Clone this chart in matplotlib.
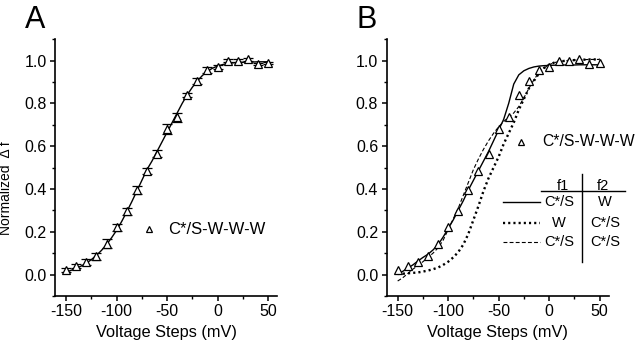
import numpy as np
import matplotlib
matplotlib.use("Agg")
import matplotlib.pyplot as plt
from matplotlib.ticker import MultipleLocator

plt.rcParams['font.family'] = ['Liberation Sans', 'DejaVu Sans']

# voltage steps (mV) and normalized frequency shift for C*/S-W-W-W
volt = [-150, -140, -130, -120, -110, -100, -90, -80, -70, -60, -50,
        -40, -30, -20, -10, 0, 10, 20, 30, 40, 50]
df_norm = [0.02, 0.04, 0.06, 0.085, 0.145, 0.22, 0.295, 0.395, 0.485, 0.565, 0.68,
           0.735, 0.84, 0.905, 0.955, 0.97, 1.0, 1.0, 1.005, 0.985, 0.99]
df_err = [0.01, 0.01, 0.015, 0.015, 0.02, 0.015, 0.015, 0.02, 0.015, 0.015, 0.025,
          0.02, 0.01, 0.015, 0.015, 0.01, 0.005, 0.005, 0.008, 0.005, 0.005]

# fitted curves, sampled every 5 mV
v_fit = list(range(-150, 55, 5))
fit_a = [0.012, 0.02, 0.03, 0.04, 0.053, 0.07, 0.09, 0.113, 0.14, 0.172, 0.207,
         0.248, 0.293, 0.34, 0.39, 0.44, 0.49, 0.53, 0.575, 0.62, 0.665,
         0.71, 0.755, 0.8, 0.84, 0.875, 0.905, 0.93, 0.95, 0.964, 0.974,
         0.981, 0.986, 0.989, 0.991, 0.992, 0.993, 0.993, 0.994, 0.994, 0.994]
fit_cs_w = [0.005, 0.015, 0.03, 0.045, 0.063, 0.08, 0.095, 0.115, 0.14, 0.175, 0.215,
            0.255, 0.3, 0.345, 0.395, 0.44, 0.485, 0.53, 0.575, 0.625, 0.675,
            0.725, 0.8, 0.89, 0.933, 0.952, 0.963, 0.97, 0.974, 0.976, 0.977,
            0.978, 0.978, 0.979, 0.979, 0.979, 0.98, 0.98, 0.98, 0.98, 0.98]
fit_w_cs = [0.003, 0.004, 0.006, 0.008, 0.01, 0.014, 0.019, 0.025, 0.033, 0.045, 0.06,
            0.08, 0.105, 0.14, 0.19, 0.255, 0.32, 0.39, 0.45, 0.5, 0.55,
            0.61, 0.66, 0.71, 0.77, 0.82, 0.87, 0.905, 0.94, 0.965, 0.98,
            0.99, 0.995, 0.998, 1.0, 1.002, 1.003, 1.004, 1.005, 1.005, 1.005]
fit_cs_cs = [-0.03, -0.015, 0.005, 0.025, 0.042, 0.06, 0.08, 0.1, 0.125, 0.16, 0.21,
             0.26, 0.31, 0.37, 0.43, 0.49, 0.54, 0.585, 0.625, 0.66, 0.69,
             0.715, 0.735, 0.755, 0.785, 0.825, 0.87, 0.91, 0.945, 0.965, 0.98,
             0.99, 0.995, 0.998, 1.0, 1.002, 1.003, 1.004, 1.005, 1.005, 1.005]

fig = plt.figure(figsize=(6.4, 3.46), dpi=100)
ax_a = fig.add_axes([0.086, 0.1445, 0.347, 0.7425])
ax_b = fig.add_axes([0.604, 0.1445, 0.347, 0.7425])

dotted = (0, (0.9, 1.3))
dashed = (0, (3.5, 2))

for ax in (ax_a, ax_b):
    ax.set_xlim(-161, 59)
    ax.set_ylim(-0.1, 1.1)
    ax.xaxis.set_major_locator(MultipleLocator(50))
    ax.xaxis.set_minor_locator(MultipleLocator(25))
    ax.yaxis.set_major_locator(MultipleLocator(0.2))
    ax.yaxis.set_minor_locator(MultipleLocator(0.1))
    ax.spines['top'].set_visible(False)
    ax.spines['right'].set_visible(False)
    ax.spines['left'].set_linewidth(1.2)
    ax.spines['bottom'].set_linewidth(1.2)
    ax.tick_params(which='major', direction='out', length=3.5, width=1.1,
                   labelsize=11.5, pad=2.5)
    ax.tick_params(which='minor', direction='out', length=2, width=1)
    ax.yaxis.set_major_formatter(plt.FuncFormatter(lambda v, p: "%.1f" % v))
    ax.xaxis.set_major_formatter(plt.FuncFormatter(lambda v, p: "%d" % v))
    ax.set_xlabel("Voltage Steps (mV)", fontsize=11.8, labelpad=4)

# panel A
ax_a.plot(v_fit, fit_a, color='black', lw=1.0)
ax_a.errorbar(volt, df_norm, yerr=df_err, fmt='^', ms=5.5, mfc='white', mec='black',
              mew=0.9, ecolor='black', elinewidth=0.9, capsize=3.5, capthick=0.9)
ax_a.set_ylabel("Normalized  \u0394 f", fontsize=10)
ax_a.yaxis.set_label_coords(-0.19, 0.42)
ax_a.plot([0.423], [0.26], '^', ms=5, mfc='white', mec='black', mew=0.9,
          transform=ax_a.transAxes)
ax_a.text(0.511, 0.26, "C*/S-W-W-W", transform=ax_a.transAxes, fontsize=12, va='center')

# panel B
ax_b.plot(v_fit, fit_cs_w, color='black', lw=1.0)
ax_b.plot(v_fit, fit_w_cs, color='black', lw=1.7, linestyle=dotted)
ax_b.plot(v_fit, fit_cs_cs, color='black', lw=0.8, linestyle=dashed)
ax_b.plot(volt, df_norm, '^', ms=5.5, mfc='white', mec='black', mew=0.9, zorder=3)
ax_b.plot([0.607], [0.60], '^', ms=5, mfc='white', mec='black', mew=0.9,
          transform=ax_b.transAxes)
ax_b.text(0.700, 0.60, "C*/S-W-W-W", transform=ax_b.transAxes, fontsize=11.3, va='center')

# f1 / f2 table of the three fits
tr = ax_b.transAxes
ax_b.text(0.794, 0.43, "f1", transform=tr, fontsize=10.5, ha='center', va='center')
ax_b.text(0.975, 0.43, "f2", transform=tr, fontsize=10.5, ha='center', va='center')
ax_b.plot([0.697, 1.072], [0.407, 0.407], color='black', lw=1.0, transform=tr, clip_on=False)
ax_b.plot([0.88, 0.88], [0.133, 0.475], color='black', lw=1.0, transform=tr, clip_on=False)
rows = [("C*/S", "W"), ("W", "C*/S"), ("C*/S", "C*/S")]
row_y = [0.364, 0.283, 0.209]
styles = [dict(lw=1.0, linestyle='-'),
          dict(lw=1.7, linestyle=dotted),
          dict(lw=0.8, linestyle=dashed)]
for (f1, f2), y, st in zip(rows, row_y, styles):
    ax_b.plot([0.525, 0.69], [y, y], color='black', transform=tr, **st)
    ax_b.text(0.776, y, f1, transform=tr, fontsize=10.5, ha='center', va='center')
    ax_b.text(0.983, y, f2, transform=tr, fontsize=10.5, ha='center', va='center')

fig.text(0.039, 0.918, "A", fontsize=22)
fig.text(0.557, 0.918, "B", fontsize=22)

fig.savefig("out.png", dpi=100)
